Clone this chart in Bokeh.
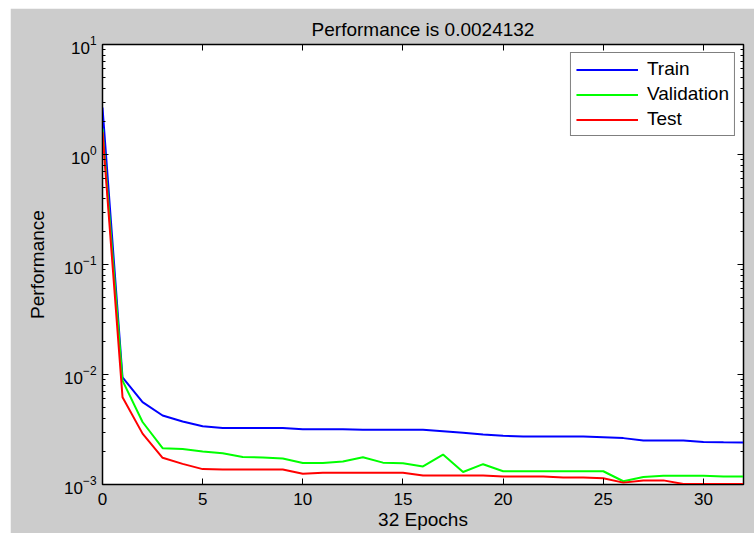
from bokeh.plotting import figure
from bokeh.models import (LogAxis, LinearAxis, Legend, LegendItem, FixedTicker,
                          LogTicker, Range1d, ColumnDataSource, CustomJSTickFormatter)
from bokeh.embed import file_html
from bokeh.resources import INLINE

# ---- data ----
epochs = list(range(33))
train = [2.67, 0.0094, 0.0056, 0.00424, 0.00374, 0.00339, 0.00327, 0.00327, 0.00326,
         0.00326, 0.00318, 0.00318, 0.00318, 0.00314, 0.00314, 0.00314, 0.00314,
         0.00305, 0.00295, 0.00285, 0.00277, 0.00273, 0.00273, 0.00273, 0.00273,
         0.00269, 0.00264, 0.00251, 0.00251, 0.00251, 0.00244, 0.00242, 0.0024132]
validation = [1.72, 0.0088, 0.0037, 0.00214, 0.0021, 0.0020, 0.00192, 0.00178, 0.00176,
              0.00172, 0.00157, 0.00157, 0.00162, 0.00177, 0.00158, 0.00156, 0.00146,
              0.00187, 0.0013, 0.00153, 0.00132, 0.00132, 0.00132, 0.00132, 0.00132,
              0.00132, 0.00107, 0.00117, 0.0012, 0.0012, 0.0012, 0.00118, 0.00118]
test = [1.6, 0.0062, 0.0029, 0.00175, 0.00154, 0.00138, 0.00137, 0.00137, 0.00137,
        0.00137, 0.00125, 0.00128, 0.00128, 0.00128, 0.00128, 0.00128, 0.00121,
        0.00121, 0.00121, 0.00121, 0.00118, 0.00118, 0.00118, 0.00116, 0.00116,
        0.00114, 0.00104, 0.00109, 0.00109, 0.00101, 0.00101, 0.00101, 0.00101]
series_names = ["Train", "Validation", "Test"]
series_colors = ["#0000FF", "#00FF00", "#FF0000"]
x_ticks = [0, 5, 10, 15, 20, 25, 30]
title_text = "Performance is 0.0024132"
x_label = "32 Epochs"
y_label = "Performance"

FONT = "Liberation Sans"

p = figure(width=744, height=525, y_axis_type="log",
           x_range=Range1d(0, 32), y_range=Range1d(1e-3, 1e1),
           output_backend="svg", toolbar_location=None,
           min_border_left=92, min_border_right=11, min_border_top=36,
           min_border_bottom=49)
p.margin = (8, 0, 0, 10)

p.border_fill_color = "#CCCCCC"
p.background_fill_color = "white"
p.outline_line_color = "black"
p.outline_line_width = 1.5
p.grid.visible = False

p.title.text = title_text
p.title.align = "center"
p.title.text_font = FONT
p.title.text_font_size = "19px"
p.title.text_font_style = "normal"
p.title.text_color = "black"

src = ColumnDataSource(dict(x=epochs, train=train, validation=validation, test=test))
renderers = []
for key, col in zip(["train", "validation", "test"], series_colors):
    renderers.append(p.line("x", key, source=src, line_color=col, line_width=2))

# main axes
p.xaxis.ticker = FixedTicker(ticks=x_ticks)
p.yaxis.ticker = LogTicker(num_minor_ticks=10)
for ax in [p.xaxis[0], p.yaxis[0]]:
    ax.major_tick_in = 6
    ax.major_tick_out = 0
    ax.minor_tick_in = 3
    ax.minor_tick_out = 0
    ax.axis_line_color = "black"
    ax.major_tick_line_color = "black"
    ax.minor_tick_line_color = "black"
    ax.major_label_text_font = FONT
    ax.major_label_text_font_size = "17px"
    ax.major_label_text_color = "black"
    ax.axis_label_text_font = FONT
    ax.axis_label_text_font_size = "19px"
    ax.axis_label_text_font_style = "normal"
    ax.axis_label_text_color = "black"
p.xaxis.minor_tick_in = 0
p.xaxis.axis_label = x_label
p.yaxis.axis_label = y_label
p.xaxis.major_label_standoff = 8
p.xaxis.axis_label_standoff = 1
p.yaxis.major_label_standoff = 6
p.yaxis.axis_label_standoff = 13

# box ticks on top and right (no labels)
blank = CustomJSTickFormatter(code="return ''")
top = LinearAxis(ticker=FixedTicker(ticks=x_ticks), formatter=blank,
                 major_tick_in=6, major_tick_out=0,
                 minor_tick_in=0, minor_tick_out=0,
                 major_label_standoff=0, axis_line_color="black")
right = LogAxis(ticker=LogTicker(num_minor_ticks=10), formatter=blank,
                major_tick_in=6, major_tick_out=0,
                minor_tick_in=3, minor_tick_out=0,
                major_label_standoff=0, axis_line_color="black")
p.add_layout(top, "above")
p.add_layout(right, "right")

legend = Legend(items=[LegendItem(label=n, renderers=[r]) for n, r in zip(series_names, renderers)],
                location="top_right")
legend.border_line_color = "black"
legend.border_line_width = 1
legend.background_fill_color = "white"
legend.background_fill_alpha = 1
legend.label_text_font = FONT
legend.label_text_font_size = "19px"
legend.label_text_color = "black"
legend.glyph_width = 62
legend.glyph_height = 19
legend.label_height = 19
legend.spacing = 3
legend.padding = 5
legend.margin = 8
legend.label_standoff = 9
p.add_layout(legend)

open("out.html", "w").write(file_html(p, INLINE))
